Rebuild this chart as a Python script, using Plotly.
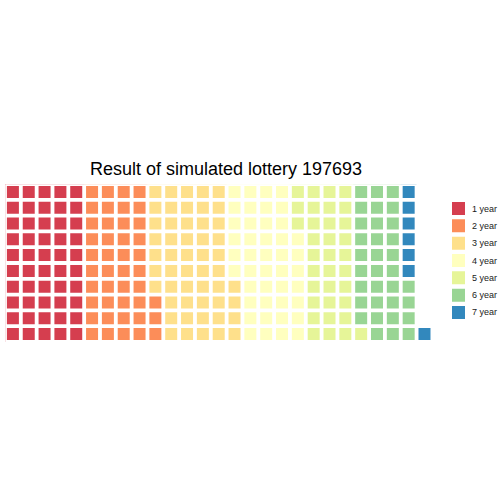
import plotly.graph_objects as go

categories = ["1 year", "2 year", "3 year", "4 year", "5 year", "6 year", "7 year"]
counts = [50, 43, 51, 43, 34, 33, 7]
colors = ["#d53e4f", "#fc8d59", "#fee08b", "#ffffbf", "#e6f598", "#99d594", "#3288bd"]
n_rows = 10
title = "Result of simulated lottery 197693"

W = H = 504
ML, MR, MT, MB = 5, 0, 184, 162
PW, PH = W - ML - MR, H - MT - MB


def px_x(p):
    return (p - ML) / PW


def px_y(p):
    return 1 - (p - MT) / PH


def faint(hexcol, a=0.3):
    r, g, b = int(hexcol[1:3], 16), int(hexcol[3:5], 16), int(hexcol[5:7], 16)
    return f"rgba({r},{g},{b},{a})"


fig = go.Figure()
start = 0
for cat, n, col in zip(categories, counts, colors):
    idx = list(range(start, start + n))
    xs = [i // n_rows + 1 for i in idx]
    ys = [i % n_rows + 1 for i in idx]
    start += n
    fig.add_trace(go.Scatter(
        x=xs, y=ys, mode="markers", name=cat, showlegend=False,
        marker=dict(symbol="square", size=12, color=col, line=dict(width=0)),
        hoverinfo="skip",
    ))
    # faint tile-edge fringes on outer top / left edges
    for xv, yv in zip(xs, ys):
        if yv == n_rows:
            fig.add_shape(type="line", x0=xv - 0.5, x1=xv + 0.5, y0=yv + 0.5, y1=yv + 0.5,
                          xref="x", yref="y", line=dict(color=faint(col), width=1), layer="below")
        if xv == 1:
            fig.add_shape(type="line", x0=xv - 0.5, x1=xv - 0.5, y0=yv - 0.5, y1=yv + 0.5,
                          xref="x", yref="y", line=dict(color=faint(col), width=1), layer="below")

n_cols = (start + n_rows - 1) // n_rows

# manual legend
leg_pos = list(range(1, len(categories) + 1))
fig.add_trace(go.Scatter(
    x=[18.5] * len(categories), y=leg_pos, mode="markers", showlegend=False,
    marker=dict(symbol="square", size=13, color=colors, line=dict(width=0)),
    xaxis="x2", yaxis="y2", hoverinfo="skip",
))
for cat, yp in zip(categories, leg_pos):
    fig.add_annotation(x=29.5, y=yp, xref="x2", yref="y2", text=cat, showarrow=False,
                       xanchor="left", yanchor="middle",
                       font=dict(size=9, color="#1a1a1a"))

fig.update_layout(
    width=W, height=H,
    paper_bgcolor="white", plot_bgcolor="white",
    margin=dict(l=ML, r=MR, t=MT, b=MB),
    font=dict(family="Liberation Sans, Arial, sans-serif", color="#1a1a1a"),
    title=dict(text=title, x=226 / W, xanchor="center", y=1 - 169 / H, yanchor="middle",
               font=dict(size=18, color="black")),
    xaxis=dict(range=[0.5, n_cols + 0.5], domain=[0, px_x(432.4)], visible=False, fixedrange=True),
    yaxis=dict(range=[0.5, n_rows + 0.5], visible=False, fixedrange=True),
    xaxis2=dict(range=[0, 64], domain=[px_x(440), px_x(504)], visible=False, fixedrange=True,
                anchor="y2"),
    yaxis2=dict(range=[len(categories) + 0.5, 0.5],
                domain=[px_y(312.5 + 17.33 / 2), px_y(208.5 - 17.33 / 2)],
                visible=False, fixedrange=True, anchor="x2"),
    showlegend=False,
)
fig.write_html("out.html")
